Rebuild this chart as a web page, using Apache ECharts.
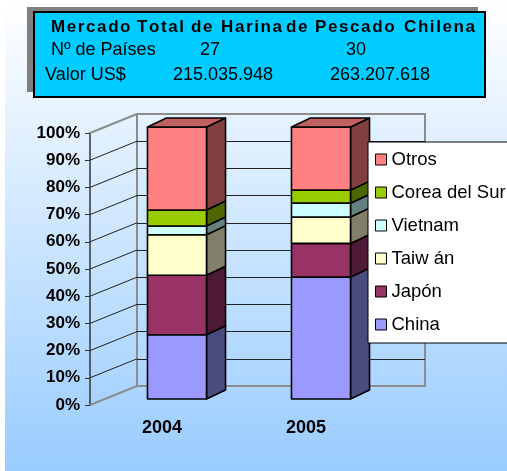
<!DOCTYPE html>
<html>
<head>
<meta charset="utf-8">
<script src="https://cdn.jsdelivr.net/npm/echarts@6/dist/echarts.min.js"></script>
<style>
  html, body { margin: 0; padding: 0; background: #fff; }
  #main { width: 507px; height: 471px; }
</style>
</head>
<body>
<div id="main"></div>
<script>
// datos (porcentaje por pais)
const categories = ['2004', '2005'];
const seriesNames = ['China', 'Japón', 'Taiw án', 'Vietnam', 'Corea del Sur', 'Otros'];
const china = [23.6, 44.8];
const japon = [21.9, 12.4];
const taiwan = [14.9, 9.7];
const vietnam = [3.2, 5.1];
const corea = [5.9, 4.8];
const otros = [30.5, 23.2];
const tickValues = [0, 10, 20, 30, 40, 50, 60, 70, 80, 90, 100];

const tituloPalabras = 'Mercado Total de Harina de Pescado Chilena'.split(' ');
const paises = ['27', '30'];
const valores = ['215.035.948', '263.207.618'];

const seriesValues = [china, japon, taiwan, vietnam, corea, otros];
const frontColors = ['#9999ff', '#993366', '#ffffcc', '#ccffff', '#99cc00', '#ff8080'];
const sideColors = ['#4b4b80', '#4f1a35', '#80806a', '#668080', '#4d6600', '#804040'];
const topColor = '#c06060';

const FONT = 'Arial, "Liberation Sans", sans-serif';
// desplazamientos de la perspectiva
const BAR_OFF_X = 15, BAR_OFF_Y = -6;
const BAR_DX = 19, BAR_DY = 9;
const WALL_DX = 47, WALL_DY = 19;

var myChart = echarts.init(document.getElementById('main'));

// acumulados para apilar
const base = categories.map(() => 0);
const barSeries = seriesNames.map((name, i) => {
  const data = categories.map((c, j) => {
    const b = base[j];
    base[j] += seriesValues[i][j];
    return [j, base[j], b];
  });
  return {
    name: name,
    type: 'custom',
    xAxisIndex: 0,
    yAxisIndex: 0,
    itemStyle: { color: frontColors[i] },
    encode: { x: 0, y: 1 },
    data: data,
    renderItem: function (params, api) {
      const cat = api.value(0);
      const top = api.value(1);
      const bot = api.value(2);
      const pT = api.coord([cat, top]);
      const pB = api.coord([cat, bot]);
      const w = api.size([1, 0])[0] * 0.41;
      const x0 = pT[0] + BAR_OFF_X - w / 2;
      const x1 = x0 + w;
      const yt = pT[1] + BAR_OFF_Y;
      const yb = pB[1] + BAR_OFF_Y;
      const line = { stroke: '#000', lineWidth: 1.6, lineJoin: 'round' };
      const children = [
        {
          type: 'polygon',
          shape: { points: [[x1, yb], [x1 + BAR_DX, yb - BAR_DY], [x1 + BAR_DX, yt - BAR_DY], [x1, yt]] },
          style: Object.assign({ fill: sideColors[i] }, line)
        },
        {
          type: 'rect',
          shape: { x: x0, y: yt, width: w, height: yb - yt },
          style: Object.assign({ fill: frontColors[i] }, line)
        }
      ];
      if (top >= 99.9) {
        children.push({
          type: 'polygon',
          shape: { points: [[x0, yt], [x1, yt], [x1 + BAR_DX, yt - BAR_DY], [x0 + BAR_DX, yt - BAR_DY]] },
          style: Object.assign({ fill: topColor }, line)
        });
      }
      return { type: 'group', children: children };
    }
  };
});

// lineas diagonales de la pared izquierda
const diagSeries = {
  type: 'custom',
  xAxisIndex: 0,
  yAxisIndex: 0,
  silent: true,
  z: 1,
  encode: { x: 0, y: 1 },
  data: tickValues.map(v => [0, v]),
  renderItem: function (params, api) {
    const v = api.value(1);
    const p = api.coord([0, v]);
    const x = params.coordSys.x;
    const edge = (v === 0 || v === 100);
    return {
      type: 'line',
      shape: { x1: x, y1: p[1], x2: x + WALL_DX, y2: p[1] - WALL_DY },
      style: { stroke: edge ? '#8c8c8c' : '#222', lineWidth: edge ? 2 : 1 }
    };
  }
};

const gridColors = tickValues.map(v => (v === 0 || v === 100) ? '#8c8c8c' : '#222');

const graphics = [
  {
    type: 'rect', z: -10, silent: true,
    shape: { x: 5, y: 0, width: 502, height: 471 },
    style: {
      fill: new echarts.graphic.LinearGradient(0, 0, 0, 1, [
        { offset: 0, color: '#ffffff' },
        { offset: 1, color: '#99ccff' }
      ])
    }
  },
  { type: 'rect', z: 100, shape: { x: 27, y: 7, width: 451, height: 85 }, style: { fill: '#808080' } },
  { type: 'rect', z: 101, shape: { x: 34, y: 12, width: 451, height: 85 }, style: { fill: '#00ccff', stroke: '#000', lineWidth: 2 } }
];

// titulo con espaciado entre letras (letra por letra)
const ctx = document.createElement('canvas').getContext('2d');
const tituloFont = 'bold 17px ' + FONT;
ctx.font = tituloFont;
const tituloX = [51, 137, 191, 221, 286, 315, 404];
const SPACING = 1.6;
tituloPalabras.forEach((t, i) => {
  let x = tituloX[i];
  for (const ch of t) {
    graphics.push({
      type: 'text', z: 102,
      style: { text: ch, x: x, y: 27, font: tituloFont, fill: '#000', verticalAlign: 'middle' }
    });
    x += ctx.measureText(ch).width + SPACING;
  }
});
const fila = (t, x, y) => ({
  type: 'text', z: 102,
  style: { text: t, x: x, y: y, fontFamily: FONT, fontSize: 18, fill: '#000', verticalAlign: 'middle' }
});
graphics.push(fila('Nº de Países', 51, 50));
graphics.push(fila(paises[0], 200, 50));
graphics.push(fila(paises[1], 346, 50));
graphics.push(fila('Valor US$', 45, 75));
graphics.push(fila(valores[0], 173, 75));
graphics.push(fila(valores[1], 330, 75));

myChart.setOption({
  backgroundColor: '#ffffff',
  animation: false,
  graphic: graphics,
  legend: {
    data: seriesNames.slice().reverse(),
    orient: 'vertical',
    left: 368,
    top: 142,
    padding: [8, 60, 9, 7],
    backgroundColor: '#ffffff',
    borderColor: '#000',
    borderWidth: 1,
    borderRadius: 0,
    icon: 'rect',
    itemWidth: 11,
    itemHeight: 11,
    itemGap: 14,
    itemStyle: { borderColor: '#000', borderWidth: 1 },
    textStyle: { fontFamily: FONT, fontSize: 18.5, color: '#000' }
  },
  grid: [
    { left: 90, top: 133, width: 288, height: 272 },
    { left: 137, top: 114, width: 288, height: 272, show: true, borderColor: '#8c8c8c', borderWidth: 2, backgroundColor: 'transparent' }
  ],
  xAxis: [
    {
      type: 'category', gridIndex: 0, data: categories,
      axisLine: { show: false }, axisTick: { show: false },
      axisLabel: { margin: 14, fontFamily: FONT, fontSize: 18, fontWeight: 'bold', color: '#000' }
    },
    {
      type: 'category', gridIndex: 1, data: categories,
      axisLine: { show: false }, axisTick: { show: false }, axisLabel: { show: false }
    }
  ],
  yAxis: [
    {
      type: 'value', gridIndex: 0, min: 0, max: 100, interval: 10,
      axisLine: { show: true, lineStyle: { color: '#333', width: 1.5 } },
      axisTick: { show: true, length: 5, lineStyle: { color: '#333' } },
      splitLine: { show: false },
      axisLabel: { margin: 10, formatter: '{value}%', fontFamily: FONT, fontSize: 17, fontWeight: 'bold', color: '#000' }
    },
    {
      type: 'value', gridIndex: 1, min: 0, max: 100, interval: 10,
      axisLine: { show: false }, axisTick: { show: false }, axisLabel: { show: false },
      splitLine: { show: true, lineStyle: { color: gridColors, width: 1 } }
    }
  ],
  series: [diagSeries].concat(barSeries)
});
</script>
</body>
</html>
